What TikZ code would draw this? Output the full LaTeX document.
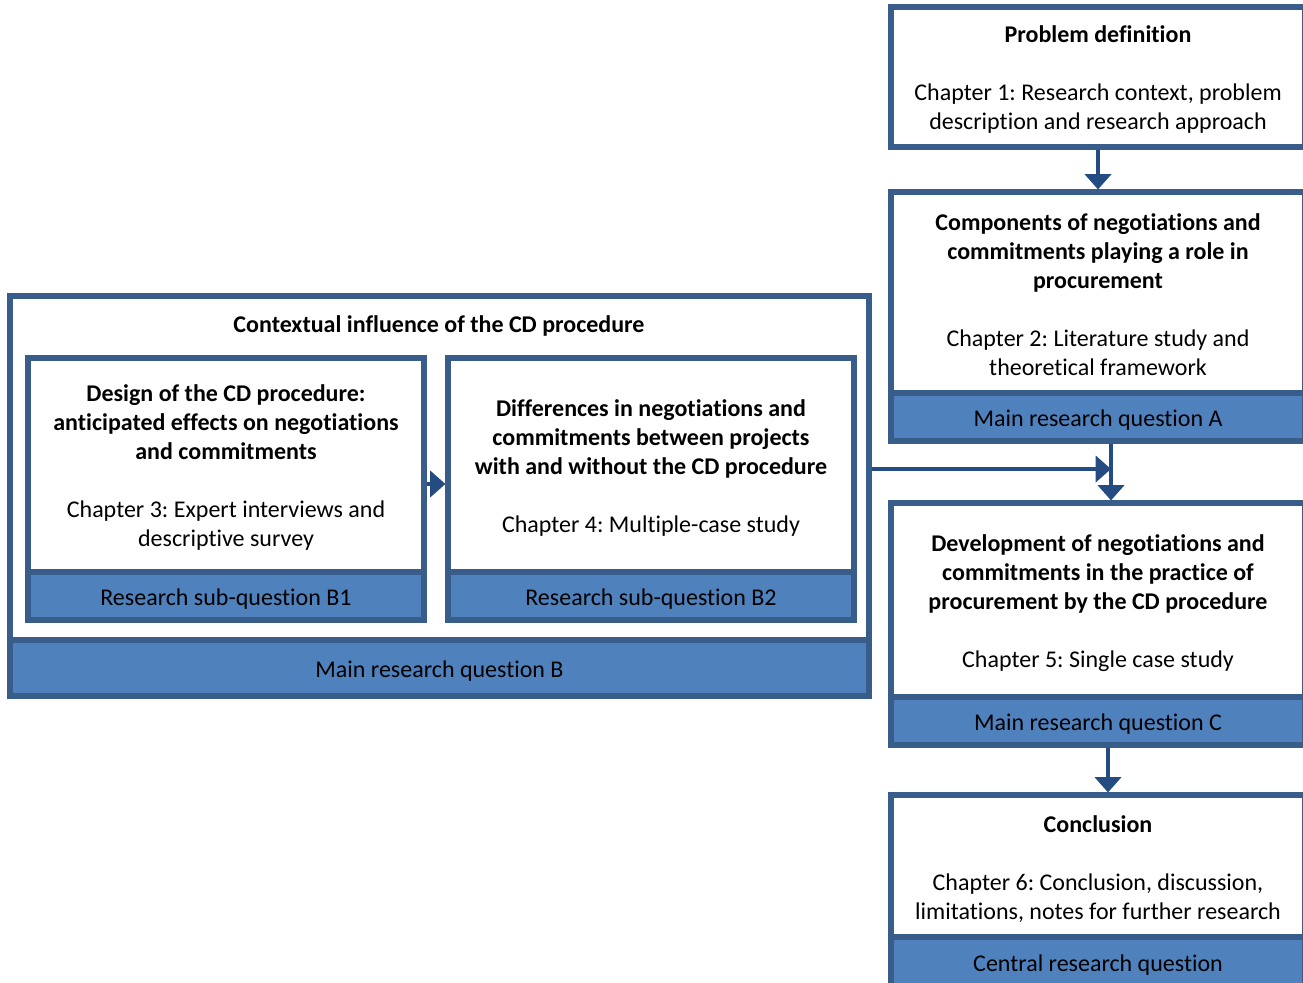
\documentclass[tikz,border=0pt]{standalone}
\usepackage{fontspec}
\setmainfont{Carlito}[Ligatures=NoCommon]
\usetikzlibrary{arrows.meta,fit}
\definecolor{edge}{HTML}{385D8A}
\definecolor{bandfill}{HTML}{4F81BD}
\definecolor{link}{HTML}{244C82}
\frenchspacing
\begin{document}
\begin{tikzpicture}[x=0.75pt,y=-0.75pt,
  boxframe/.style={draw=edge, line width=3.8pt, fill=white, inner sep=0pt},
  qband/.style={draw=edge, line width=3.8pt, fill=bandfill, inner sep=0pt},
  txt/.style={align=center, font=\fontsize{18}{21.75}\selectfont, inner sep=0pt},
  bandtxt/.style={txt, yshift=-2.2pt},
  flow/.style={draw=link, line width=3pt, -{Triangle[width=19.5pt,length=11.5pt]}}]
\useasboundingbox (0,0) rectangle (1303,982);

% ---- right column: chapters 1, 2, 5, 6 ----
\node[boxframe, fit={(891,7) (1305,147)}] (p1) {};
\node[txt] (p1t) at (1098,80) {\textbf{Problem definition}\\[21.75pt]Chapter 1: Research context, problem\\description and research approach};

\node[boxframe, fit={(891,192) (1305,441)}] (p2) {};
\node[qband, fit={(891,393) (1305,441)}] (qa) {};
\node[txt] (p2t) at (1098,295) {\textbf{Components of negotiations and}\\\textbf{commitments playing a role in}\\\textbf{procurement}\\[21.75pt]Chapter 2: Literature study and\\theoretical framework};
\node[bandtxt] (qat) at (qa.center) {Main research question A};

\node[boxframe, fit={(891,503) (1305,745)}] (p3) {};
\node[qband, fit={(891,697) (1305,745)}] (qc) {};
\node[txt] (p3t) at (1098,603) {\textbf{Development of negotiations and}\\\textbf{commitments in the practice of}\\\textbf{procurement by the CD procedure}\\[21.75pt]Chapter 5: Single case study};
\node[bandtxt] (qct) at (qc.center) {Main research question C};

\node[boxframe, fit={(891,795) (1305,990)}] (p4) {};
\node[qband, fit={(891,937) (1305,990)}] (cq) {};
\node[txt] (p4t) at (1098,869) {\textbf{Conclusion}\\[21.75pt]Chapter 6: Conclusion, discussion,\\limitations, notes for further research};
\node[bandtxt] (cqt) at (1098,962) {Central research question};

% ---- left block: chapters 3 and 4 ----
\node[boxframe, fit={(10,296) (869,696)}] (big) {};
\node[qband, fit={(10,640) (869,696)}] (qb) {};
\node[txt] (bigt) at (439,326) {\textbf{Contextual influence of the CD procedure}};
\node[bandtxt] (qbt) at (qb.center) {Main research question B};

\node[boxframe, fit={(28,358) (424,620)}] (b1) {};
\node[qband, fit={(28,572) (424,620)}] (qb1) {};
\node[txt] (b1t) at (226,468) {\textbf{Design of the CD procedure:}\\\textbf{anticipated effects on negotiations}\\\textbf{and commitments}\\[21.75pt]Chapter 3: Expert interviews and\\descriptive survey};
\node[bandtxt] (qb1t) at (qb1.center) {Research sub-question B1};

\node[boxframe, fit={(448,358) (854,620)}] (b2) {};
\node[qband, fit={(448,572) (854,620)}] (qb2) {};
\node[txt] (b2t) at (651,468) {\textbf{Differences in negotiations and}\\\textbf{commitments between projects}\\\textbf{with and without the CD procedure}\\[21.75pt]Chapter 4: Multiple-case study};
\node[bandtxt] (qb2t) at (qb2.center) {Research sub-question B2};

% ---- connectors ----
\coordinate (mid) at (436,484);
\coordinate (join) at (1111,469);
\coordinate (down) at (1108,770);

\draw[flow] (p1.south) -- (p2.north);
\draw[flow] (b1.east |- mid) -- (b2.west |- mid);
\draw[flow] (big.east |- join) -- (join);
\draw[flow] (qa.south -| join) -- (p3.north -| join);
\draw[flow] (qc.south -| down) -- (p4.north -| down);
\end{tikzpicture}
\end{document}
